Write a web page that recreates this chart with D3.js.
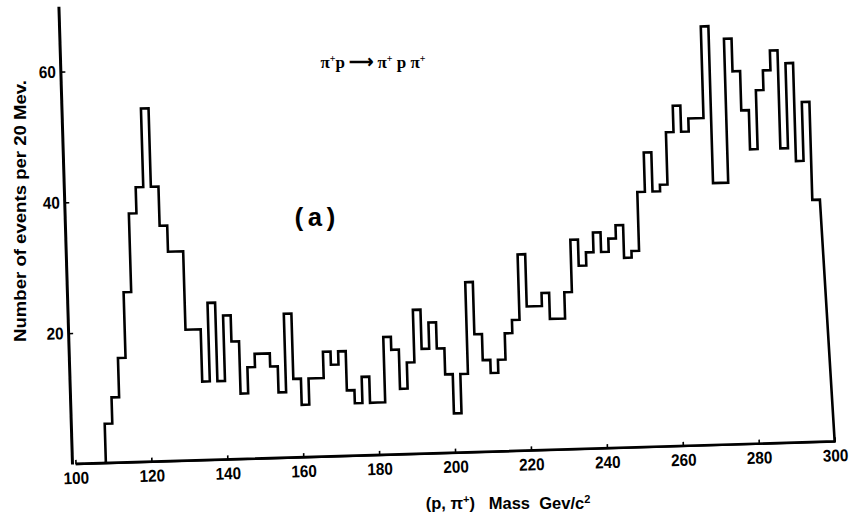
<!DOCTYPE html>
<html>
<head>
<meta charset="utf-8">
<script src="https://cdn.jsdelivr.net/npm/d3@7"></script>
<style>
  body { margin: 0; background: #fff; }
  text { fill: #000; }
</style>
</head>
<body>
<svg id="chart" width="854" height="522"></svg>
<script>
// (p, pi+) invariant-mass histogram, 20 MeV bins (axis in units of 10 MeV)
const binStarts = [
  100,102,104,106,108,110,112,114,116,118,
  120,122,124,126,128,130,132,134,136,138,
  140,142,144,146,148,150,152,154,156,158,
  160,162,164,166,168,170,172,174,176,178,
  180,182,184,186,188,190,192,194,196,198,
  200,202,204,206,208,210,212,214,216,218,
  220,222,224,226,228,230,232,234,236,238,
  240,242,244,246,248,250,252,254,256,258,
  260,262,264,266,268,270,272,274,276,278,
  280,282,284,286,288,290,292,294,296
];
const counts = [
   0, 0, 0, 0, 6,10,16,26,38,42,
  54,42,36,32,32,20,20,12,24,12,
  22,18,10,14,16,16,14,10,22,12,
   8,12,12,16,14,16,10, 8,12, 8,
   8,18,16,10,14,22,16,20,16,12,
   6,12,26,18,14,12,14,18,20,30,
  22,22,24,20,20,24,32,28,30,33,
  30,32,34,29,30,39,45,39,40,48,
  52,48,50,50,64,40,40,62,57,51,
  45,54,57,60,45,58,43,52,37
];
const binWidth = 2;
// kinematic upper limit where the outline closes to the baseline
const massLimit = 300;

const xTicks = [100,120,140,160,180,200,220,240,260,280,300];
const xTickLabels = ["100","120","140","160","180","200","220","240","260","280","300"];
const yTicks = [20,40,60];
const yTickLabels = ["20","40","60"];

const svg = d3.select("#chart");

// The whole frame sits slightly tilted on the page
const frame = svg.append("g")
  .attr("transform", "translate(72,464) rotate(-1.7)");

const x = d3.scaleLinear().domain([100, 300]).range([3.5, 763]);
const y = d3.scaleLinear().domain([0, 70]).range([0, -458]);

// x axis
const xAxis = frame.append("g")
  .call(d3.axisBottom(x)
    .tickValues(xTicks)
    .tickFormat((d, i) => xTickLabels[i])
    .tickSizeInner(-4)
    .tickSizeOuter(0)
    .tickPadding(8));
xAxis.select(".domain").attr("stroke", "#000").attr("stroke-width", 1.8);
xAxis.selectAll(".tick line").attr("stroke", "#000").attr("stroke-width", 1.6);
xAxis.selectAll(".tick text")
  .attr("font-family", "'Liberation Sans', Arial, sans-serif")
  .attr("font-size", 17)
  .attr("font-weight", "bold")
  .attr("transform", "scale(0.9,1)");

// y axis
const yAxis = frame.append("g")
  .call(d3.axisLeft(y)
    .tickValues(yTicks)
    .tickFormat((d, i) => yTickLabels[i])
    .tickSizeInner(-5)
    .tickSizeOuter(0)
    .tickPadding(5));
yAxis.select(".domain").attr("stroke", "#000").attr("stroke-width", 3);
yAxis.selectAll(".tick line").attr("stroke", "#000").attr("stroke-width", 1.6);
yAxis.selectAll(".tick text")
  .attr("font-family", "'Liberation Sans', Arial, sans-serif")
  .attr("font-size", 17)
  .attr("font-weight", "bold")
  .attr("transform", "scale(0.9,1)");

// histogram outline: steps over the bins, then a closing edge down to the limit
const steps = binStarts.map((b, i) => [b, counts[i]]);
const lastEdge = binStarts[binStarts.length - 1] + binWidth;
steps.push([lastEdge, counts[counts.length - 1]]);

const line = d3.line()
  .x(d => x(d[0]))
  .y(d => y(d[1]))
  .curve(d3.curveStepAfter);

const closing = d3.line()
  .x(d => x(d[0]))
  .y(d => y(d[1]));

const outline = line(steps) + "L" + closing([[massLimit, 0]]).slice(1);

frame.append("path")
  .attr("d", outline)
  .attr("fill", "none")
  .attr("stroke", "#000")
  .attr("stroke-width", 2.6)
  .attr("stroke-linejoin", "miter");

// y axis title
svg.append("text")
  .attr("transform", "translate(20,211) rotate(-90)")
  .attr("text-anchor", "middle")
  .attr("dy", "0.35em")
  .attr("font-family", "'Liberation Sans', Arial, sans-serif")
  .attr("font-size", 16)
  .attr("font-weight", "bold")
  .attr("textLength", 262)
  .attr("lengthAdjust", "spacingAndGlyphs")
  .text("Number of events per 20 Mev.");

// x axis title
const xTitle = svg.append("text")
  .attr("x", 508)
  .attr("y", 509)
  .attr("text-anchor", "middle")
  .attr("font-family", "'Liberation Sans', Arial, sans-serif")
  .attr("font-size", 16.5)
  .attr("font-weight", "bold")
  .style("white-space", "pre");
xTitle.append("tspan").text("(p, π");
xTitle.append("tspan").attr("dy", -6).attr("font-size", 11).text("+");
xTitle.append("tspan").attr("dy", 6).text(")   Mass  Gev/c");
xTitle.append("tspan").attr("dy", -6).attr("font-size", 11).text("2");

// reaction label
const reaction = svg.append("text")
  .attr("x", 373)
  .attr("y", 68)
  .attr("text-anchor", "middle")
  .attr("font-family", "'Liberation Serif', 'Times New Roman', serif")
  .attr("font-size", 17)
  .attr("font-weight", "bold")
  .style("white-space", "pre");
reaction.append("tspan").text("π");
reaction.append("tspan").attr("dy", -6).attr("font-size", 10).text("+");
reaction.append("tspan").attr("dy", 6).text("p ⟶ π");
reaction.append("tspan").attr("dy", -6).attr("font-size", 10).text("+");
reaction.append("tspan").attr("dy", 6).text(" p π");
reaction.append("tspan").attr("dy", -6).attr("font-size", 10).text("+");

// panel tag
svg.append("text")
  .attr("x", 315)
  .attr("y", 226)
  .attr("text-anchor", "middle")
  .attr("font-family", "'Liberation Mono', 'DejaVu Sans Mono', monospace")
  .attr("font-size", 26)
  .attr("font-weight", "bold")
  .text("(a)");
</script>
</body>
</html>
